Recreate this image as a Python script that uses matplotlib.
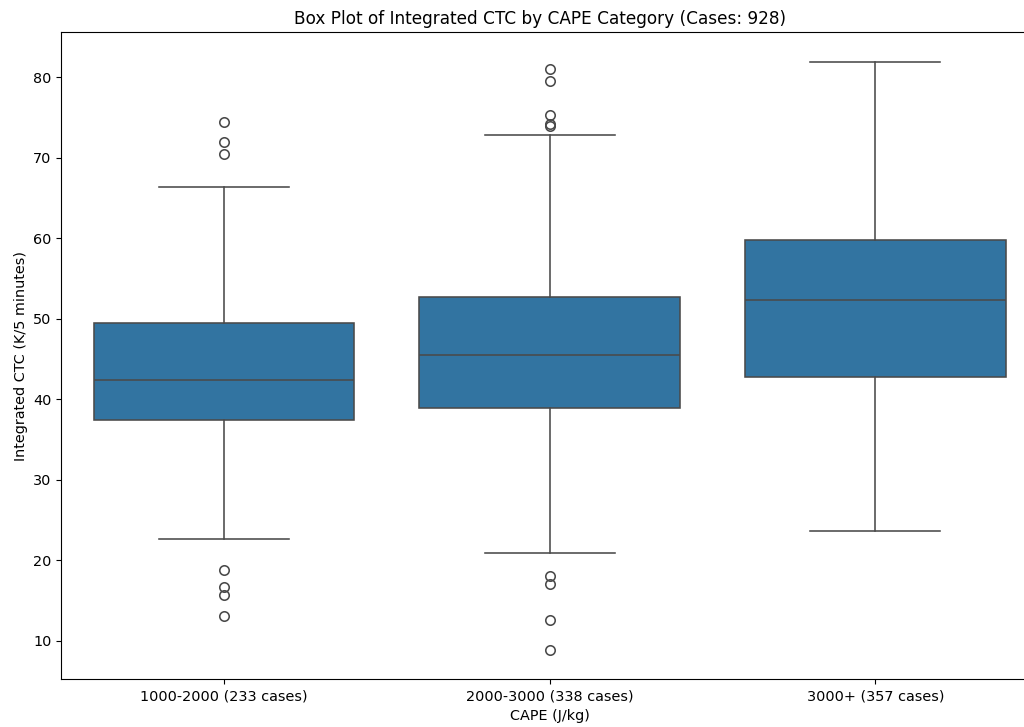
import matplotlib
matplotlib.use("Agg")
import matplotlib.pyplot as plt

# gia tri doc tu hinh (thong ke cua tung hop)
categories = ['1000-2000 (233 cases)', '2000-3000 (338 cases)', '3000+ (357 cases)']
q1 = [37.4, 38.9, 42.8]
medians = [42.45, 45.55, 52.4]
q3 = [49.55, 52.7, 59.75]
whisker_low = [22.7, 20.9, 23.7]
whisker_high = [66.4, 72.8, 81.95]
outliers = [
    [74.5, 72.0, 70.45, 18.75, 16.65, 15.7, 13.1],
    [81.05, 79.5, 75.35, 74.2, 74.0, 18.1, 17.1, 12.6, 8.88],
    [],
]

box_color = '#3274a1'
line_color = '#4a4a4a'

stats = []
for i in range(len(categories)):
    stats.append({
        'q1': q1[i], 'med': medians[i], 'q3': q3[i],
        'whislo': whisker_low[i], 'whishi': whisker_high[i],
        'fliers': outliers[i],
    })

fig = plt.figure(figsize=(10.24, 7.27), dpi=100)
ax = fig.add_axes([0.0598, 0.0656, 0.954, 0.890])

line_kw = dict(color=line_color, linewidth=1.15)
ax.bxp(stats, positions=range(len(categories)), widths=0.8, capwidths=0.4,
       patch_artist=True,
       boxprops=dict(facecolor=box_color, edgecolor=line_color, linewidth=1.15),
       medianprops=line_kw, whiskerprops=line_kw, capprops=line_kw,
       flierprops=dict(marker='o', markerfacecolor='none', markeredgecolor=line_color,
                       markersize=6.8, markeredgewidth=1.15))

ax.set_xlim(-0.5, len(categories) - 0.5)
ax.set_xticks(range(len(categories)))
ax.set_xticklabels(categories)
ax.tick_params(labelsize=10.4)

ax.set_title('Box Plot of Integrated CTC by CAPE Category (Cases: 928)', fontsize=12.2, x=0.49)
ax.set_xlabel('CAPE (J/kg)', fontsize=10.4)
ax.set_ylabel('Integrated CTC (K/5 minutes)', fontsize=10.4)

fig.savefig('out.png', dpi=100)
